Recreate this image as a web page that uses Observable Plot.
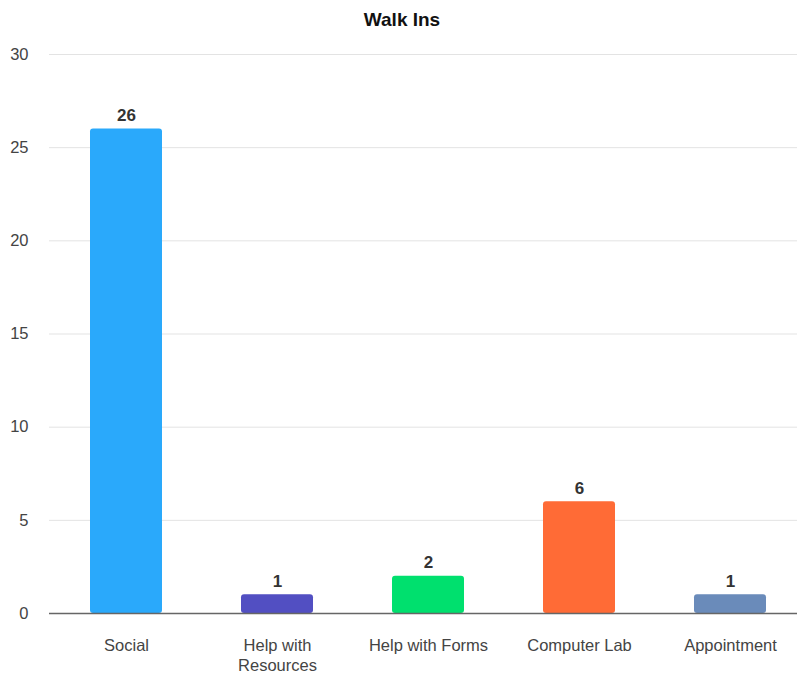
<!DOCTYPE html>
<html>
<head>
<meta charset="utf-8">
<script src="https://cdn.jsdelivr.net/npm/d3@7"></script>
<script src="https://cdn.jsdelivr.net/npm/@observablehq/plot@0.6"></script>
<style>
  html, body { margin: 0; padding: 0; background: #fff; overflow: hidden; }
  #wrap { position: relative; width: 797px; height: 675px; font-family: "Liberation Sans", Arial, sans-serif; }
  #title { position: absolute; left: 0; top: 9px; width: 804px; text-align: center; font-size: 19px; font-weight: bold; color: #111; }
  svg { overflow: hidden; }
</style>
</head>
<body>
<div id="wrap"><div id="title">Walk Ins</div></div>
<script>
const categories = ["Social", "Help with Resources", "Help with Forms", "Computer Lab", "Appointment"];
const tickLabels = ["Social", "Help with\nResources", "Help with Forms", "Computer Lab", "Appointment"];
const values = [26, 1, 2, 6, 1];
const colors = ["#2aa9fb", "#524fc2", "#00e06e", "#ff6b36", "#6a8bba"];
const yTicks = [0, 5, 10, 15, 20, 25, 30];

const data = categories.map((c, i) => ({category: c, value: values[i]}));
const labelOf = new Map(categories.map((c, i) => [c, tickLabels[i]]));

const chart = Plot.plot({
  width: 797,
  height: 675,
  marginTop: 54,
  marginBottom: 62,
  marginLeft: 49,
  marginRight: -10,
  style: {fontFamily: "'Liberation Sans', Arial, sans-serif", fontSize: "16.5px", color: "#444", background: "transparent"},
  x: {domain: categories, paddingInner: 0.525, paddingOuter: 0.2625, label: null},
  y: {domain: [0, 30], label: null},
  color: {domain: categories, range: colors},
  marks: [
    Plot.gridY(yTicks, {stroke: "#e3e3e3", strokeOpacity: 1, strokeWidth: 1}),
    Plot.axisY(yTicks, {tickSize: 0, tickPadding: 21, fontSize: 16.5, fill: "#444", label: null}),
    Plot.axisX({tickSize: 0, tickPadding: 23, fontSize: 16.5, fill: "#444", label: null, lineHeight: 1.21, tickFormat: d => labelOf.get(d)}),
    Plot.barY(data, {x: "category", y: "value", fill: "category", rx: 3}),
    Plot.ruleY([0], {stroke: "#666", strokeWidth: 1.5}),
    Plot.text(data, {x: "category", y: "value", text: d => String(d.value), dy: -8, lineAnchor: "bottom", fontWeight: "bold", fontSize: 17, fill: "#333"})
  ]
});
document.getElementById("wrap").appendChild(chart);
</script>
</body>
</html>
